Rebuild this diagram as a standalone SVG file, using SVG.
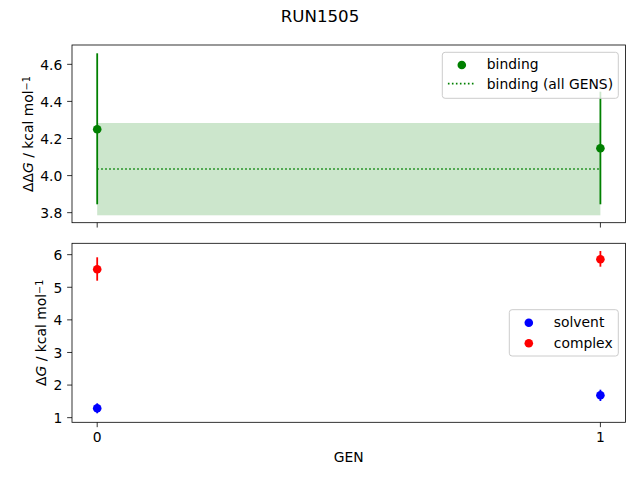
<svg xmlns="http://www.w3.org/2000/svg" width="640" height="480" viewBox="0 0 640 480">
<style>
text{font-family:"DejaVu Sans","Liberation Sans",sans-serif;font-size:13.89px;fill:#000}
.title{font-size:16.67px}
.spine{fill:none;stroke:#000;stroke-width:0.8}
.tick{stroke:#000;stroke-width:0.8}
.yl{text-anchor:end}
.xl{text-anchor:middle}
.eg{stroke:#008000;stroke-width:1.8}
.er{stroke:#ff0000;stroke-width:1.8}
.eb{stroke:#0000ff;stroke-width:1.8}
.dot{stroke:#008000;stroke-width:1.7;stroke-dasharray:1.6,2.4}
.leg{fill:#fff;fill-opacity:0.8;stroke:#cccccc;stroke-width:1}
</style>
<rect width="640" height="480" fill="#fff"/>
<text class="title" x="320" y="22.3" text-anchor="middle">RUN1505</text>

<g id="top-axes">
  <rect id="band" x="97.2" y="123" width="503.2" height="92.3" fill="#008000" fill-opacity="0.2"/>
  <line id="mean-line" class="dot" x1="97.2" y1="169" x2="600.4" y2="169"/>
  <g id="binding-points">
    <line class="eg" x1="97.2" y1="53.3" x2="97.2" y2="204.3"/>
    <line class="eg" x1="600.4" y1="91.7" x2="600.4" y2="204.3"/>
    <circle cx="97.2" cy="129.3" r="4.3" fill="#008000"/>
    <circle cx="600.4" cy="148.3" r="4.3" fill="#008000"/>
  </g>
  <rect class="spine" x="72" y="45" width="553.6" height="177.7"/>
  <g id="top-yticks">
    <line class="tick" x1="67.14" y1="64.33" x2="72" y2="64.33"/>
    <line class="tick" x1="67.14" y1="101.4" x2="72" y2="101.4"/>
    <line class="tick" x1="67.14" y1="138.5" x2="72" y2="138.5"/>
    <line class="tick" x1="67.14" y1="175.6" x2="72" y2="175.6"/>
    <line class="tick" x1="67.14" y1="212.67" x2="72" y2="212.67"/>
    <text class="yl" x="62.3" y="69.6">4.6</text>
    <text class="yl" x="62.3" y="106.7">4.4</text>
    <text class="yl" x="62.3" y="143.8">4.2</text>
    <text class="yl" x="62.3" y="180.9">4.0</text>
    <text class="yl" x="62.3" y="218">3.8</text>
  </g>
  <g id="top-xticks">
    <line class="tick" x1="97.2" y1="222.7" x2="97.2" y2="227.56"/>
    <line class="tick" x1="600.4" y1="222.7" x2="600.4" y2="227.56"/>
  </g>
  <text transform="translate(32.6,134) rotate(-90)" text-anchor="middle">ΔΔ<tspan font-style="italic">G</tspan> / kcal mol<tspan font-size="9.7px" baseline-shift="35%">−1</tspan></text>
  <g id="top-legend">
    <rect class="leg" x="442.3" y="52.3" width="176" height="46" rx="2.8"/>
    <circle cx="461.8" cy="65" r="4.3" fill="#008000"/>
    <text x="486.8" y="69.3">binding</text>
    <line class="dot" x1="447.9" y1="83.6" x2="475.7" y2="83.6"/>
    <text x="486.8" y="88.7">binding (all GENS)</text>
  </g>
</g>

<g id="bottom-axes">
  <g id="complex-points">
    <line class="er" x1="97.2" y1="257.3" x2="97.2" y2="280.7"/>
    <line class="er" x1="600.4" y1="251" x2="600.4" y2="266.7"/>
    <circle cx="97.2" cy="269.3" r="4.3" fill="#ff0000"/>
    <circle cx="600.4" cy="259.3" r="4.3" fill="#ff0000"/>
  </g>
  <g id="solvent-points">
    <line class="eb" x1="97.2" y1="403.3" x2="97.2" y2="413.3"/>
    <line class="eb" x1="600.4" y1="389.7" x2="600.4" y2="401"/>
    <circle cx="97.2" cy="408.3" r="4.3" fill="#0000ff"/>
    <circle cx="600.4" cy="395.3" r="4.3" fill="#0000ff"/>
  </g>
  <rect class="spine" x="72" y="243.3" width="553.6" height="179"/>
  <g id="bottom-yticks">
    <line class="tick" x1="67.14" y1="254.67" x2="72" y2="254.67"/>
    <line class="tick" x1="67.14" y1="287.27" x2="72" y2="287.27"/>
    <line class="tick" x1="67.14" y1="319.87" x2="72" y2="319.87"/>
    <line class="tick" x1="67.14" y1="352.47" x2="72" y2="352.47"/>
    <line class="tick" x1="67.14" y1="385.07" x2="72" y2="385.07"/>
    <line class="tick" x1="67.14" y1="417.67" x2="72" y2="417.67"/>
    <text class="yl" x="62.3" y="259.9">6</text>
    <text class="yl" x="62.3" y="292.5">5</text>
    <text class="yl" x="62.3" y="325.1">4</text>
    <text class="yl" x="62.3" y="357.7">3</text>
    <text class="yl" x="62.3" y="390.3">2</text>
    <text class="yl" x="62.3" y="422.9">1</text>
  </g>
  <g id="bottom-xticks">
    <line class="tick" x1="97.2" y1="422.3" x2="97.2" y2="427.16"/>
    <line class="tick" x1="600.4" y1="422.3" x2="600.4" y2="427.16"/>
    <text class="xl" x="97.2" y="441.8">0</text>
    <text class="xl" x="600.4" y="441.8">1</text>
  </g>
  <text x="348.8" y="462.3" text-anchor="middle">GEN</text>
  <text transform="translate(46.4,332.8) rotate(-90)" text-anchor="middle">Δ<tspan font-style="italic">G</tspan> / kcal mol<tspan font-size="9.7px" baseline-shift="35%">−1</tspan></text>
  <g id="bottom-legend">
    <rect class="leg" x="509.3" y="309.7" width="109" height="46.3" rx="2.8"/>
    <circle cx="528.8" cy="322.7" r="4.3" fill="#0000ff"/>
    <text x="553.8" y="326.9">solvent</text>
    <circle cx="528.8" cy="343.3" r="4.3" fill="#ff0000"/>
    <text x="553.8" y="347.7">complex</text>
  </g>
</g>
</svg>
